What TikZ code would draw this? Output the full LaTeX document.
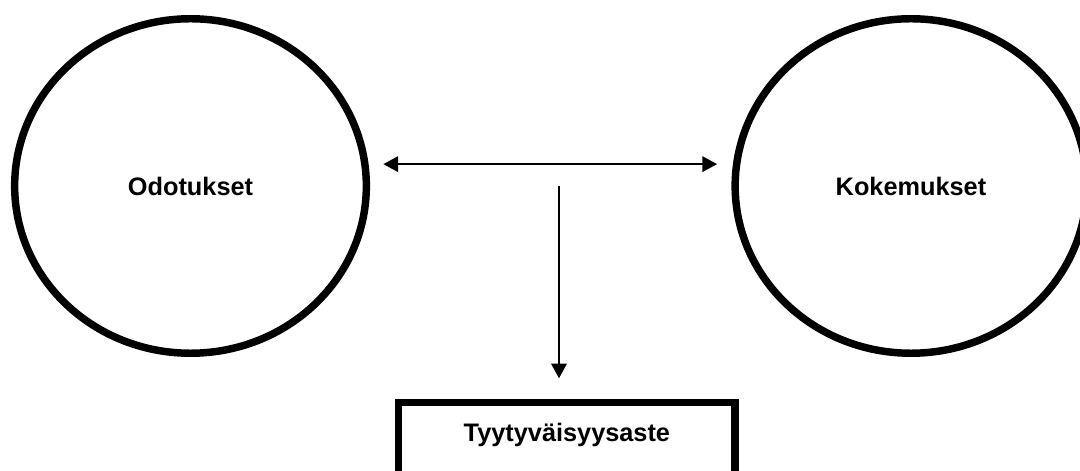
\documentclass[tikz,border=0pt]{standalone}
\usepackage{fontspec}
\setmainfont{Liberation Sans}
\usetikzlibrary{shapes.geometric,arrows.meta}

\begin{document}
\begin{tikzpicture}[x=0.025cm,y=-0.025cm,
    font=\bfseries\fontsize{18}{22}\selectfont,
    >={Triangle[length=10.5pt,width=11pt]},
    blob/.style={draw,ellipse,line width=5.3pt,inner sep=0pt,
      minimum width=8.79cm,minimum height=8.36cm},
    link/.style={line width=1.5pt}]
  \useasboundingbox (0,0) rectangle (1080,471);
  \node[blob] (odot) at (190.5,186) {Odotukset};
  \node[blob] (kok) at (911,186) {Kokemukset};
  \node[draw,line width=5.3pt,anchor=north,minimum width=8.41cm,
    inner xsep=0pt,inner ysep=0pt,text height=27.6pt,text depth=60pt]
    (aste) at (566.9,399) {Tyytyväisyysaste};
  \coordinate (drop) at (559,186);
  % arrows between the two circles and down to the box
  \draw[link,<->,shorten <=10.5pt,shorten >=10.2pt]
    (odot.7.4) -- (odot.7.4 -| kok.west);
  \draw[link,->,shorten >=14.7pt] (drop) -- (drop |- aste.north);
\end{tikzpicture}
\end{document}
